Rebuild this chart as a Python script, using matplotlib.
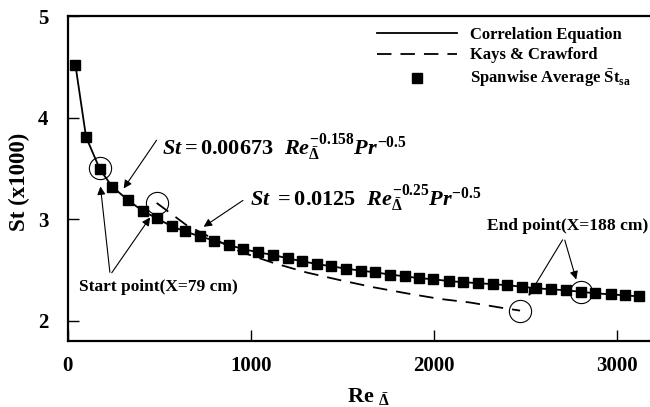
import matplotlib
matplotlib.use('Agg')
import matplotlib.pyplot as plt

plt.rcParams['font.family'] = ['Liberation Serif', 'DejaVu Serif']
plt.rcParams['font.weight'] = 'bold'
plt.rcParams['mathtext.fontset'] = 'custom'
plt.rcParams['mathtext.rm'] = 'Liberation Serif:bold'
plt.rcParams['mathtext.bf'] = 'Liberation Serif:bold'
plt.rcParams['mathtext.it'] = 'Liberation Serif:italic:bold'

# spanwise average St (x1000) vs Re_delta
re_pts = [42, 100, 176, 243, 328, 410, 486, 568, 641, 723, 801, 883, 960,
          1041, 1123, 1202, 1282, 1361, 1440, 1522, 1601, 1681, 1763, 1842,
          1921, 1998, 2084, 2162, 2244, 2322, 2402, 2481, 2559, 2641, 2721,
          2807, 2883, 2967, 3045, 3123]
st_pts = [4.52, 3.81, 3.49, 3.32, 3.19, 3.08, 3.01, 2.93, 2.88, 2.83, 2.79,
          2.745, 2.705, 2.674, 2.647, 2.615, 2.585, 2.559, 2.536, 2.513,
          2.493, 2.477, 2.454, 2.438, 2.419, 2.409, 2.39, 2.38, 2.37, 2.36,
          2.35, 2.335, 2.32, 2.31, 2.30, 2.285, 2.27, 2.26, 2.25, 2.24]

# Kays & Crawford
re_kc = [486, 650, 760, 942, 1123, 1306, 1488, 1670, 1852, 2034, 2198, 2380, 2472]
st_kc = [3.16, 2.94, 2.84, 2.68, 2.57, 2.475, 2.40, 2.33, 2.27, 2.215, 2.18, 2.125, 2.10]

# circled start / end points
start_re = [176, 486]
start_st = [3.50, 3.16]
end_re = [2472, 2807]
end_st = [2.10, 2.28]

fig = plt.figure(figsize=(6.5, 4.07), dpi=100)
ax = fig.add_axes([0.1042, 0.162, 0.8958, 0.7985])

ax.plot(re_pts, st_pts, '-', color='k', lw=1.3, label='Correlation Equation')
ax.plot(re_kc, st_kc, '--', color='k', lw=1.3, dashes=(8, 5), label='Kays & Crawford')
ax.plot(re_pts, st_pts, 's', color='k', ms=7, ls='none',
        label=r'Spanwise Average $\bar{\mathrm{S}}\mathrm{t}_{\mathrm{sa}}$')
ax.plot(start_re + end_re, start_st + end_st, 'o', mfc='none', mec='k', ms=16, mew=0.8, ls='none')

ax.set_xlim(0, 3182)
ax.set_ylim(1.8, 5)
ax.set_xticks([0, 1000, 2000, 3000])
ax.set_yticks([2, 3, 4, 5])
ax.tick_params(direction='in', length=8, width=1, labelsize=15)
ax.tick_params(axis='x', pad=11)
ax.tick_params(axis='y', pad=14)
for lab in ax.get_xticklabels() + ax.get_yticklabels():
    lab.set_fontweight('bold')
ax.spines['right'].set_visible(False)
for s in ['left', 'bottom', 'top']:
    ax.spines[s].set_linewidth(1.6)

ax.set_xlabel(r'Re $_{\bar{\Delta}}$', fontsize=16, fontweight='bold')
ax.xaxis.set_label_coords(0.516, -0.139)
ax.set_ylabel('St (x1000)', fontsize=16.5, fontweight='bold')
ax.yaxis.set_label_coords(-0.064, 0.489)

leg = ax.legend(loc='upper left', bbox_to_anchor=(0.505, 1.012), frameon=False,
                fontsize=12, handlelength=4.8, labelspacing=0.25, handletextpad=0.78)

arrow = dict(arrowstyle='-|>', color='k', lw=0.8, mutation_scale=12)

ax.text(517, 3.63, r'$St = 0.00673\ \ Re_{\bar{\Delta}}^{-0.158}Pr^{-0.5}$', fontsize=16)
ax.annotate('', xy=(297, 3.28), xytext=(494, 3.80), arrowprops=arrow)

ax.text(997, 3.13, r'$St\ =0.0125\ \ Re_{\bar{\Delta}}^{-0.25}Pr^{-0.5}$', fontsize=16)
ax.annotate('', xy=(730, 2.91), xytext=(970, 3.20), arrowprops=arrow)

ax.text(62, 2.29, 'Start point(X=79 cm)', fontsize=12.5, fontweight='bold')
ax.annotate('', xy=(177, 3.35), xytext=(232, 2.45), arrowprops=arrow)
ax.annotate('', xy=(459, 3.04), xytext=(232, 2.45), arrowprops=arrow)

ax.text(2291, 2.89, 'End point(X=188 cm)', fontsize=12.5, fontweight='bold')
ax.annotate('', xy=(2510, 2.22), xytext=(2712, 2.82), arrowprops=arrow)
ax.annotate('', xy=(2783, 2.38), xytext=(2712, 2.82), arrowprops=arrow)

fig.savefig('out.png', dpi=100)
